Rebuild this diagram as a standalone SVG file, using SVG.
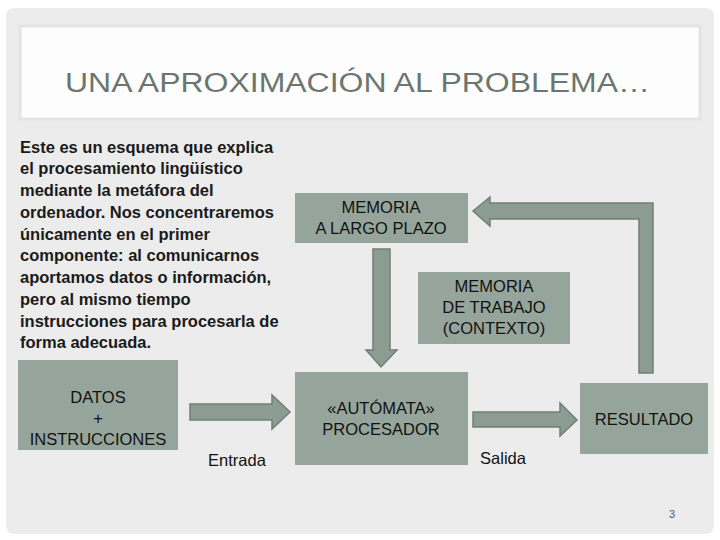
<svg xmlns="http://www.w3.org/2000/svg" width="720" height="540" viewBox="0 0 720 540">
<style>
.n{fill:#95a59b}
.t{font-family:"Liberation Sans",Arial,sans-serif;font-size:16.5px;fill:#111;text-anchor:middle}
.p{font-family:"Liberation Sans",Arial,sans-serif;font-size:16.5px;fill:#1a1a1a;font-weight:bold}
.a{fill:#8c9c92;stroke:#6f7f75;stroke-width:1.5}
</style>
<rect width="720" height="540" fill="#fff"/>
<rect x="6" y="8" width="708" height="526" rx="8" fill="#ececec"/>
<rect x="20" y="26" width="680" height="93" fill="#fdfdfd" stroke="#e4e4e4" stroke-width="3"/>
<text x="65" y="92" font-family="Liberation Sans,Arial,sans-serif" font-size="27" fill="#6b7670" textLength="585" lengthAdjust="spacingAndGlyphs">UNA APROXIMACIÓN AL PROBLEMA…</text>
<g class="p">
<text x="20" y="153">Este es un esquema que explica</text>
<text x="20" y="174">el procesamiento lingüístico</text>
<text x="20" y="196">mediante la metáfora del</text>
<text x="20" y="218">ordenador. Nos concentraremos</text>
<text x="20" y="240">únicamente en el primer</text>
<text x="20" y="261">componente: al comunicarnos</text>
<text x="20" y="283">aportamos datos o información,</text>
<text x="20" y="305">pero al mismo tiempo</text>
<text x="20" y="327">instrucciones para procesarla de</text>
<text x="20" y="348">forma adecuada.</text>
</g>
<g id="connectors">
<polygon class="a" points="373,249 390,249 390,350 397,350 381,367 366,350 373,350"/>
<polygon class="a" points="473,412 560,412 560,403 577,420 560,436 560,427 473,427"/>
<polygon class="a" points="653,373 639,373 639,219 490,219 490,226 473,211 490,197 490,203 653,203"/>
<polygon class="a" points="190,404 272,404 272,395 290,412 272,429 272,420 190,420"/>
</g>
<g id="mlp"><rect class="n" x="295" y="193" width="173" height="50"/>
<text class="t" x="381" y="213">MEMORIA</text><text class="t" x="381" y="234">A LARGO PLAZO</text></g>
<g id="mdt"><rect class="n" x="418" y="272" width="152" height="72"/>
<text class="t" x="494" y="292">MEMORIA</text><text class="t" x="494" y="313">DE TRABAJO</text><text class="t" x="494" y="334">(CONTEXTO)</text></g>
<g id="proc"><rect class="n" x="295" y="372" width="173" height="93"/>
<text class="t" x="381" y="414">«AUTÓMATA»</text><text class="t" x="381" y="435">PROCESADOR</text></g>
<g id="res"><rect class="n" x="580" y="383" width="128" height="71"/>
<text class="t" x="644" y="425">RESULTADO</text></g>
<g id="datos"><rect class="n" x="18" y="360" width="160" height="90"/>
<text class="t" x="98" y="403">DATOS</text><text class="t" x="98" y="424">+</text><text class="t" x="98" y="445">INSTRUCCIONES</text></g>
<text class="t" x="237" y="466">Entrada</text>
<text class="t" x="503" y="464">Salida</text>
<text x="672" y="518" font-family="Liberation Sans,Arial,sans-serif" font-size="11" fill="#5a4aa0" text-anchor="middle">3</text>
</svg>
